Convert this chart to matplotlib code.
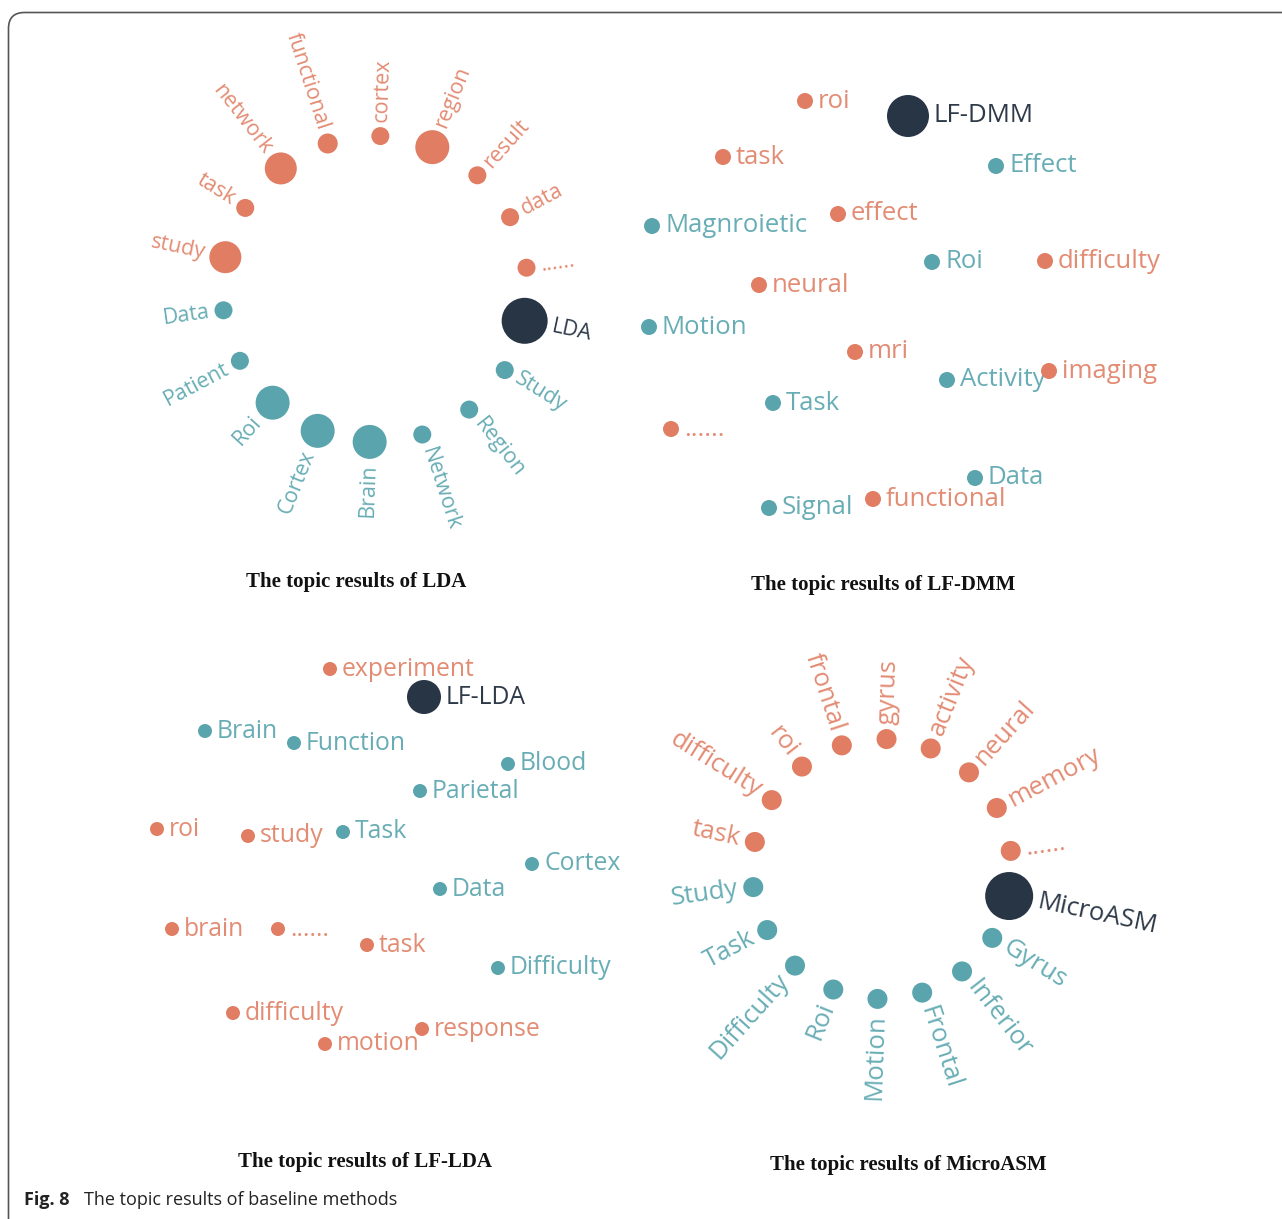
import numpy as np
import matplotlib.pyplot as plt
from matplotlib.patches import FancyBboxPatch

W, H = 1282, 1219
ORANGE = '#E07D62'
TEAL = '#5AA5AD'
DARK = '#283545'
kind_color = {'w': ORANGE, 't': TEAL, 'm': DARK}
text_color = {'w': '#E38C74', 't': '#68ADB5', 'm': '#2E3A48'}
PX = 72 / 100  # points per pixel

# --- LDA: circular layout, clockwise from the "......" node
lda_words = ['......', 'LDA', 'Study', 'Region', 'Network', 'Brain', 'Cortex', 'Roi', 'Patient',
             'Data', 'study', 'task', 'network', 'functional', 'cortex', 'region', 'result', 'data']
lda_kind = ['w', 'm', 't', 't', 't', 't', 't', 't', 't', 't', 'w', 'w', 'w', 'w', 'w', 'w', 'w', 'w']
lda_size = [18, 46, 18, 18, 18, 34, 34, 34, 18, 18, 32, 18, 32, 20, 18, 34, 18, 18]

# --- MicroASM: circular layout, clockwise from the "......" node
masm_words = ['......', 'MicroASM', 'Gyrus', 'Inferior', 'Frontal', 'Motion', 'Roi', 'Difficulty',
              'Task', 'Study', 'task', 'difficulty', 'roi', 'frontal', 'gyrus', 'activity', 'neural', 'memory']
masm_kind = ['w', 'm', 't', 't', 't', 't', 't', 't', 't', 't', 'w', 'w', 'w', 'w', 'w', 'w', 'w', 'w']
masm_size = [20, 48, 20, 20, 20, 20, 20, 20, 20, 20, 20, 20, 20, 20, 20, 20, 20, 20]

# --- LF-DMM: free layout
dmm_words = ['roi', 'LF-DMM', 'task', 'Effect', 'Magnroietic', 'effect', 'Roi', 'difficulty', 'neural',
             'Motion', 'mri', 'Activity', 'imaging', 'Task', '......', 'Data', 'functional', 'Signal']
dmm_kind = ['w', 'm', 'w', 't', 't', 'w', 't', 'w', 'w', 't', 'w', 't', 'w', 't', 'w', 't', 'w', 't']
dmm_x = [805, 908, 723, 996, 652, 838, 932, 1045, 759, 649, 855, 947, 1049, 773, 671, 975, 873, 769]
dmm_y = [101, 116, 157, 166, 226, 214, 262, 261, 285, 327, 352, 380, 371, 403, 429, 478, 499, 508]

# --- LF-LDA: free layout
lflda_words = ['experiment', 'LF-LDA', 'Brain', 'Function', 'Blood', 'Parietal', 'roi', 'study', 'Task',
               'Cortex', 'Data', 'brain', '......', 'task', 'Difficulty', 'difficulty', 'motion', 'response']
lflda_kind = ['w', 'm', 't', 't', 't', 't', 'w', 'w', 't', 't', 't', 'w', 'w', 'w', 't', 'w', 'w', 'w']
lflda_x = [330, 424, 205, 294, 508, 420, 157, 248, 343, 532, 440, 172, 278, 367, 498, 233, 325, 422]
lflda_y = [669, 697, 731, 743, 764, 791, 829, 836, 832, 864, 889, 929, 929, 945, 968, 1013, 1044, 1029]

titles = ['The topic results of LDA', 'The topic results of LF-DMM',
          'The topic results of LF-LDA', 'The topic results of MicroASM']

fig = plt.figure(figsize=(W / 100, H / 100), dpi=100)
ax = fig.add_axes([0, 0, 1, 1])
ax.set_xlim(0, W)
ax.set_ylim(H, 0)
ax.axis('off')

FONT = 'Open Sans'


def draw_node(x, y, word, kind, diam, ang, fs, z):
    ax.scatter([x], [y], s=(diam * PX) ** 2, color=kind_color[kind], edgecolors='none', zorder=z)
    a = np.deg2rad(ang)
    off = (diam / 2 + 5) * PX
    if np.cos(a) < 0:
        rot, ha = ang - 180, 'right'
    else:
        rot, ha = ang, 'left'
    ax.annotate(word, (x, y), xytext=(off * np.cos(a), off * np.sin(a)), textcoords='offset points',
                rotation=rot, rotation_mode='anchor', ha=ha, va='center',
                color=text_color[kind], fontsize=fs, family=FONT, zorder=z + 0.001)


def circular(words, kinds, sizes, cx, cy, radius, start, fs):
    n = len(words)
    for i, (w, k, d) in enumerate(zip(words, kinds, sizes)):
        ang = start - 360 / n * i
        a = np.deg2rad(ang)
        draw_node(cx + radius * np.cos(a), cy - radius * np.sin(a), w, k, d, ang, fs, 2 + i * 0.01)


def free(words, kinds, xs, ys, small, big, fs):
    for i, (w, k, x, y) in enumerate(zip(words, kinds, xs, ys)):
        draw_node(x, y, w, k, big if k == 'm' else small, 0, fs, 2 + i * 0.01)


circular(lda_words, lda_kind, lda_size, 375, 289, 153, 8, 15.5)
circular(masm_words, masm_kind, masm_size, 882, 869, 130, 8, 18.5)
free(dmm_words, dmm_kind, dmm_x, dmm_y, 16, 42, 18.5)
free(lflda_words, lflda_kind, lflda_x, lflda_y, 14, 34, 17.8)

for t, (tx, ty) in zip(titles, [(356, 582), (883, 585), (365, 1162), (908, 1165)]):
    ax.text(tx, ty, t, ha='center', va='center', family='Liberation Serif',
            fontweight='bold', fontsize=15, color='#111111')

ax.text(24, 1200, 'Fig. 8', ha='left', va='center', family=FONT, fontweight='bold',
        fontsize=13, color='#222222')
ax.text(84, 1200, 'The topic results of baseline methods', ha='left', va='center',
        family=FONT, fontsize=13, color='#222222')

ax.add_patch(FancyBboxPatch((8.5, 12.5), 1400, 1400, boxstyle='round,pad=0,rounding_size=16',
                            fill=False, ec='#555555', lw=1.2, zorder=1))

fig.savefig('out.png', dpi=100)
